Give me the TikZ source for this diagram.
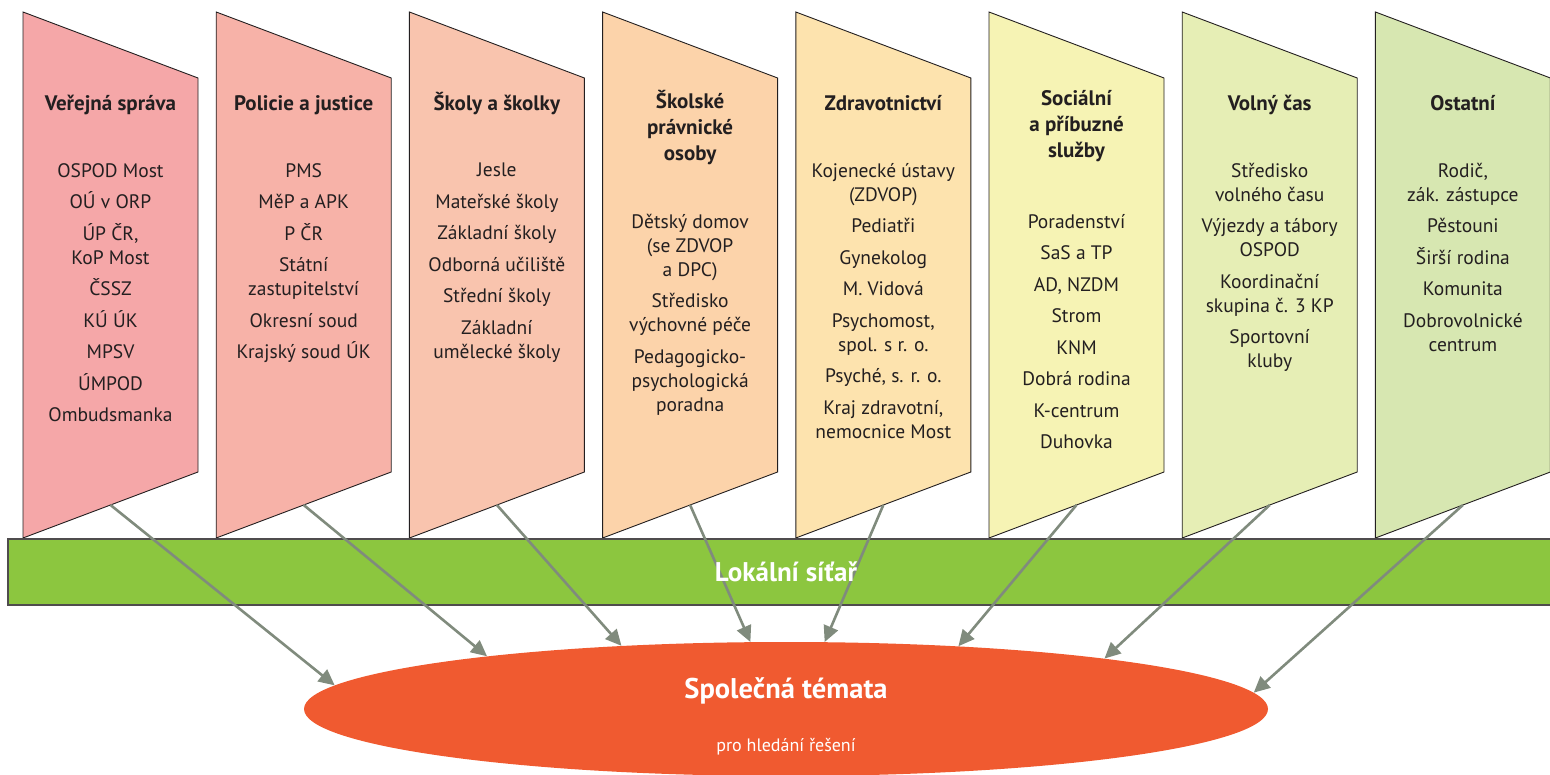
\documentclass[tikz,border=0pt]{standalone}
\usepackage{fontspec}
\setmainfont{PT Sans}
\usetikzlibrary{arrows.meta, positioning, shapes.geometric}

\definecolor{ink}{HTML}{231F20}
\definecolor{verejna}{HTML}{F5A7A8}
\definecolor{policie}{HTML}{F7B2A8}
\definecolor{skoly}{HTML}{F9C4AE}
\definecolor{pravnicke}{HTML}{FCD3AA}
\definecolor{zdravi}{HTML}{FDE3AE}
\definecolor{socialni}{HTML}{F6F3B4}
\definecolor{volny}{HTML}{E6EEB5}
\definecolor{ostatni}{HTML}{D7E7B1}
\definecolor{sitgreen}{HTML}{8CC63F}
\definecolor{temared}{HTML}{F05A30}
\definecolor{linkgray}{HTML}{808B7D}

\begin{document}
\begin{tikzpicture}[
    x=1pt, y=-1pt,
    column/.style={
        draw=ink,
        line width=0.9pt,
        line join=miter,
    },
    heading/.style={
        font=\fontsize{21}{26}\selectfont\bfseries,
        text=ink,
        align=center,
        anchor=north,
        inner sep=0pt,
        execute at begin node={\rule{0pt}{20pt}},
    },
    items/.style={
        font=\fontsize{19.5}{24}\selectfont,
        text=ink,
        align=center,
        anchor=north,
        inner sep=0pt,
        execute at begin node={\rule{0pt}{18pt}},
    },
    link/.style={
        draw=linkgray,
        line width=2.6pt,
        -{Triangle[length=16pt,width=15pt]},
    },
    topic/.style={
        ellipse,
        fill=temared,
        minimum width=964pt,
        minimum height=134pt,
        inner sep=0pt,
    },
    whitetext/.style={
        text=white,
        anchor=base,
        inner sep=0pt,
    }
]
    \useasboundingbox (0,0) rectangle (1550,775);

    % Columns
    \draw[column, fill=verejna]   (23,12)     -- ++(175,66) -- ++(0,394) -- coordinate[midway] (foot1) ++(-175,66) -- cycle;
    \draw[column, fill=policie]   (216.2,12)  -- ++(175,66) -- ++(0,394) -- coordinate[midway] (foot2) ++(-175,66) -- cycle;
    \draw[column, fill=skoly]     (409.4,12)  -- ++(175,66) -- ++(0,394) -- coordinate[midway] (foot3) ++(-175,66) -- cycle;
    \draw[column, fill=pravnicke] (602.6,12)  -- ++(175,66) -- ++(0,394) -- coordinate[midway] (foot4) ++(-175,66) -- cycle;
    \draw[column, fill=zdravi]    (795.8,12)  -- ++(175,66) -- ++(0,394) -- coordinate[midway] (foot5) ++(-175,66) -- cycle;
    \draw[column, fill=socialni]  (989,12)    -- ++(175,66) -- ++(0,394) -- coordinate[midway] (foot6) ++(-175,66) -- cycle;
    \draw[column, fill=volny]     (1182.2,12) -- ++(175,66) -- ++(0,394) -- coordinate[midway] (foot7) ++(-175,66) -- cycle;
    \draw[column, fill=ostatni]   (1375.4,12) -- ++(175,66) -- ++(0,394) -- coordinate[midway] (foot8) ++(-175,66) -- cycle;

    % Headings (first baseline at 110.5)
    \node[heading] (head1) at (110.5,90.5)  {Veřejná správa};
    \node[heading] (head2) at (303.7,90.5)  {Policie a justice};
    \node[heading] (head3) at (496.9,90.5)  {Školy a školky};
    \node[heading] (head4) at (690.1,90.5)  {Školské\\právnické\\osoby};
    \node[heading] (head5) at (883.3,90.5)  {Zdravotnictví};
    \node[heading] (head6) at (1076.5,90.5) {Sociální\\a příbuzné\\služby};
    \node[heading] (head7) at (1269.7,90.5) {Volný čas};
    \node[heading] (head8) at (1462.9,90.5) {Ostatní};

    % Members
    \node[items] (list1) at (110.5,163) {OSPOD Most\\[7.5pt] OÚ v ORP\\[7.5pt] ÚP ČR,\\KoP Most\\[7.5pt] ČSSZ\\[7.5pt] KÚ ÚK\\[7.5pt] MPSV\\[7.5pt] ÚMPOD\\[7.5pt] Ombudsmanka};
    \node[items] (list2) at (303.7,163) {PMS\\[7.5pt] MěP a APK\\[7.5pt] P ČR\\[7.5pt] Státní\\zastupitelství\\[7.5pt] Okresní soud\\[7.5pt] Krajský soud ÚK};
    \node[items] (list3) at (496.9,163) {Jesle\\[7.5pt] Mateřské školy\\[7.5pt] Základní školy\\[7.5pt] Odborná učiliště\\[7.5pt] Střední školy\\[7.5pt] Základní\\umělecké školy};
    \node[items] (list4) at (690.1,214) {Dětský domov\\(se ZDVOP\\a DPC)\\[7.5pt] Středisko\\výchovné péče\\[7.5pt] Pedagogicko-\\psychologická\\poradna};
    \node[items] (list5) at (883.3,163) {Kojenecké ústavy\\(ZDVOP)\\[7.5pt] Pediatři\\[7.5pt] Gynekolog\\[7.5pt] M. Vidová\\[7.5pt] Psychomost,\\spol. s r. o.\\[7.5pt] Psyché, s. r. o.\\[7.5pt] Kraj zdravotní,\\nemocnice Most};
    \node[items] (list6) at (1076.5,214) {Poradenství\\[7.5pt] SaS a TP\\[7.5pt] AD, NZDM\\[7.5pt] Strom\\[7.5pt] KNM\\[7.5pt] Dobrá rodina\\[7.5pt] K-centrum\\[7.5pt] Duhovka};
    \node[items] (list7) at (1269.7,163) {Středisko\\volného času\\[7.5pt] Výjezdy a tábory\\OSPOD\\[7.5pt] Koordinační\\skupina č. 3 KP\\[7.5pt] Sportovní\\kluby};
    \node[items] (list8) at (1462.9,163) {Rodič,\\zák. zástupce\\[7.5pt] Pěstouni\\[7.5pt] Širší rodina\\[7.5pt] Komunita\\[7.5pt] Dobrovolnické\\centrum};

    % Network bar and common topics
    \draw[fill=sitgreen, draw=ink!80, line width=1.2pt] (8,539) rectangle (1553,605);
    \node[topic] (tema) at (786,709) {};

    % Links
    \draw[link] (foot1) -- (tema.177.5);
    \draw[link] (foot2) -- (tema.170.7);
    \draw[link] (foot3) -- (tema.159.7);
    \draw[link] (foot4) -- (tema.118);
    \draw[link] (foot5) -- (tema.60.5);
    \draw[link] (foot6) -- (tema.20.2);
    \draw[link] (foot7) -- (tema.9.2);
    \draw[link] (foot8) -- (tema.2.6);

    % Texts on top
    \node[whitetext, font=\fontsize{27}{32}\selectfont\bfseries] (sitar) at (786,581) {Lokální síťař};
    \node[whitetext, font=\fontsize{28.5}{34}\selectfont\bfseries] (temata) at (786,698) {Společná témata};
    \node[whitetext, font=\fontsize{18}{22}\selectfont] (reseni) at (786,751) {pro hledání řešení};
\end{tikzpicture}
\end{document}
